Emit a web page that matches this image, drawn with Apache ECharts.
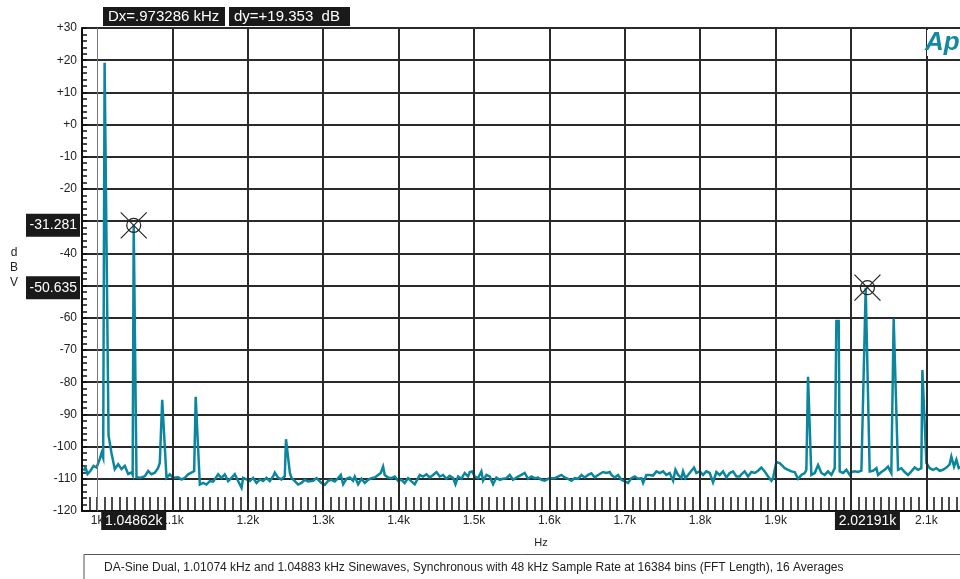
<!DOCTYPE html>
<html>
<head>
<meta charset="utf-8">
<script src="https://cdn.jsdelivr.net/npm/echarts@6/dist/echarts.min.js"></script>
<style>
html,body{margin:0;padding:0;background:#fff;overflow:hidden;}
#chart{width:960px;height:579px;}
</style>
</head>
<body>
<div id="chart"></div>
<script>
// ---------- DATA ----------
const freqHz = [
  982,984.7,987.3,991.3,995.3,999.3,1003.3,1005.9,1008.1,1010,1012.3,1015.2,1019.1,1023.5,1028,1032.4,1036.8,1041.3,1045.7,1047.2,1048.6,1050.3,
  1052.3,1056.7,1063.4,1067.8,1072.2,1076.6,1081.0,1083.2,1086.4,1088,1092.1,1096.5,1100.9,1107.6,1112.0,1116.4,1120.8,1125.2,1128.8,1130.8,1133,
  1136.3,1140.7,1145.1,1149.6,1154.0,1160.6,1165.0,1169.4,1173.9,1178.3,1182.7,1187.1,1191.6,1193.8,1198.2,1202.6,1207.0,1211.5,1215.9,1220.3,
  1224.7,1229.1,1233.6,1235.8,1240.2,1244.6,1249.0,1250.6,1252,1255.7,1257.9,1262.3,1266.7,
  1271.1,1275.5,1280.0,1286.6,1291.0,1297.6,1302.0,1306.5,1310.9,1315.3,1319.7,1323.3,1326.4,1330.8,1335.2,1339.6,1341.8,1346.3,1350.7,1355.1,
  1359.5,1363.9,1368.4,1372.8,1376.3,1379.4,1381.6,1386.0,1390.5,1394.9,1399.3,1403.7,1408.1,1412.6,1417.0,1421.4,1425.8,1428.0,1432.5,1436.9,
  1441.3,1445.7,1450.2,1454.6,1459.0,1463.4,1467.8,1472.3,1475.4,1478.9,1483.3,1487.7,1492.1,1494.4,1497.5,1501.0,1505.4,1509.8,1512.0,1516.5,
  1520.9,1525.3,1529.7,1534.2,1538.6,1543.0,1547.4,1551.8,1558.5,
  1562.9,1567.3,1571.7,1576.2,1580.6,1585.0,1589.4,1593.8,1598.3,1602.7,1607.1,1611.5,1615.9,1620.4,1624.8,1629.2,1633.6,1638.1,1642.5,1646.9,
  1651.3,1655.7,1660.2,1664.6,1671.2,1675.6,1680.1,1682.3,1686.7,1691.1,1695.5,1700.0,1704.4,1708.8,1713.2,1717.6,1722.1,1724.3,1728.7,1733.1,
  1737.5,1742.0,1746.4,1750.8,1755.2,1759.6,1764.1,1767.2,1770.7,1775.1,1777.3,1780.4,1784.0,1788.4,1791.9,1795.0,1799.4,1803.8,1808.3,1812.7,
  1817.1,1821.5,1826.0,1830.4,1834.8,1839.2,1843.6,1848.1,1852.5,
  1854.7,1859.1,1863.5,1868.0,1872.4,1876.8,1881.2,1885.6,1890.1,1894.5,1896.7,1898.9,1901.1,1905.5,1907.8,1912.2,1916.6,1921.0,1925.4,1929.9,
  1934.3,1938.7,1940.9,1943.1,1945.3,1947.5,1952.0,1956.4,1960.8,1965.2,1969.6,1974.1,1978.5,1980.7,1983.8,1985.1,1989.5,1994.0,1998.4,2000.6,
  2005.0,2009.4,2013.9,2019.6,2021.8,2024.9,2029.3,2033.8,2036.0,2040.4,2044.8,2049.2,2053.6,2056.7,2059.0,2062.5,2066.9,2071.3,2075.8,2080.2,
  2084.6,2089.0,2093.4,2094.8,2096.1,2100.1,2104.5,2108.9,2113.3,2117.8,2122.2,2126.6,2131.0,2133.2,2136.8,2139.9,2143.0,2146.5
];
const levelDbv = [
  -107.5,-106.5,-108.5,-107.5,-106,-106.5,-104,-102,-103.5,19.2,19.2,-96.5,-102,-107,-105.5,-107,-106,-108.5,-108,-108.8,-31.28,-31.3,
  -109.5,-109.7,-109.2,-107.6,-108.6,-108.1,-106.6,-105.0,-85.5,-85.5,-109.7,-108.6,-109.7,-109.5,-110.2,-109.7,-108.6,-108.1,-107.6,-84.5,-84.5,
  -111.8,-111.3,-111.8,-110.7,-110.9,-108.6,-109.7,-108.6,-110.7,-109.7,-108.6,-110.7,-112.8,-109.7,-110.2,-110.7,-109.7,-111.3,-110.2,-110.7,
  -109.7,-110.7,-109.2,-108.1,-109.7,-110.2,-109.2,-97.7,-97.7,-108.1,-109.7,-110.7,-111.8,
  -111.3,-110.3,-110.8,-110.6,-109.8,-111.3,-111.9,-110.6,-110.3,-110.8,-109.8,-108.8,-111.7,-110,-109.6,-110.6,-109.3,-111.7,-110,-111.3,
  -110.3,-109.8,-109.6,-108.8,-108.2,-106.2,-108.8,-109.6,-109.8,-109.3,-110.6,-110.3,-111.3,-109.8,-110.8,-111.7,-109.8,-108.8,-109.3,-108.6,
  -109.6,-108.8,-107.9,-109.3,-108.8,-110,-109.1,-109.8,-111.7,-109.3,-110,-108.2,-109.3,-107.9,-107.7,-109.3,-109.8,-107.7,-110.6,-108.8,
  -109.3,-111.7,-109.6,-110.3,-110,-109.8,-108.8,-110.3,-109.3,
  -108.8,-108.2,-110,-109.3,-109.8,-109.6,-110.3,-110.6,-110,-109.8,-109.8,-109.3,-108.8,-109.6,-110,-110.6,-109.8,-110,-108.8,-109.6,
  -108.8,-108.3,-109.6,-108.8,-107.9,-108.2,-107.9,-108.8,-109.6,-108.8,-110.3,-110.8,-111.3,-109.8,-109.3,-110,-109.8,-111.3,-108.8,-108.8,
  -109,-107.7,-108.2,-107.7,-108.8,-108.2,-110.6,-107.2,-108.8,-109.8,-107.7,-109.8,-108.8,-107.5,-106.5,-108.2,-107.7,-108.8,-107.7,-108.2,
  -111.1,-107.9,-108.8,-107.7,-109.6,-108.2,-107.7,-109.3,-109.3,
  -108.6,-107.7,-109.3,-107.9,-108.2,-107.5,-106.5,-107.7,-109.3,-110.6,-109.8,-107.2,-104.8,-105.1,-104.6,-106.7,-107.2,-107.7,-107.9,-110,
  -108.8,-108.2,-107.2,-78.3,-78.3,-108.8,-108.2,-105.7,-108.2,-108.8,-107.7,-108.8,-106.7,-61,-61,-107.7,-108.2,-107.2,-108.8,-107.9,
  -107.7,-107.9,-107.5,-50.64,-50.64,-107.7,-107.5,-106.7,-108.8,-107.9,-107.2,-106.2,-108.2,-60.2,-60.2,-107.2,-106.7,-107.9,-108.8,-107.7,
  -106.5,-107.2,-106.7,-76.2,-76.2,-105.1,-106.7,-107.2,-106.7,-107.5,-107.2,-106.5,-105.5,-103.1,-106.2,-104.1,-106.7,-106.2
];
const gridFreqs = [1000,1100,1200,1300,1400,1500,1600,1700,1800,1900,2000,2100];
const cursorFreqs = [1048.62, 2021.91];
const cursorLevels = [-31.281, -50.635];
const cursorXLabels = ['1.04862k', '2.02191k'];
const cursorYLabels = ['-31.281', '-50.635'];
const deltaLabels = ['Dx=.973286 kHz', 'dy=+19.353  dB'];
const captionText = 'DA-Sine Dual, 1.01074 kHz and 1.04883 kHz Sinewaves, Synchronous with 48 kHz Sample Rate at 16384 bins (FFT Length), 16 Averages';

// ---------- CHART ----------
const FONT = '"Liberation Sans", Arial, sans-serif';
const LINE = '#0b869e';
const chart = echarts.init(document.getElementById('chart'), null, {renderer: 'canvas'});
const series = freqHz.map((f, i) => [f, levelDbv[i]]);
const cursors = cursorFreqs.map((f, i) => [f, cursorLevels[i]]);

chart.setOption({
  animation: false,
  backgroundColor: '#fff',
  grid: {left: 82, top: 28, width: 882, height: 483, containLabel: false, outerBoundsMode: 'none'},
  xAxis: {
    type: 'value', min: 980, max: 2150, interval: 10,
    axisLine: {show: true, onZero: false, lineStyle: {color: '#111', width: 2}},
    axisTick: {show: true, inside: true, length: 14, lineStyle: {color: '#111', width: 1.5}},
    axisLabel: {
      margin: 4, color: '#222', fontSize: 12, fontFamily: FONT,
      formatter: v => (Math.round(v) % 100 === 0 ? (Math.round(v) / 1000) + 'k' : '')
    },
    splitLine: {show: false}
  },
  yAxis: {
    type: 'value', min: -120, max: 30, interval: 10,
    axisLine: {show: true, onZero: false, lineStyle: {color: '#111', width: 2}},
    axisTick: {show: true, inside: true, length: 5, lineStyle: {color: '#111', width: 1.5}},
    minorTick: {show: true, splitNumber: 5, length: 5, lineStyle: {color: '#111', width: 1.5}},
    axisLabel: {
      margin: 5, color: '#222', fontSize: 12, fontFamily: FONT,
      formatter: v => (v >= 0 ? '+' + v : String(v))
    },
    splitLine: {show: true, lineStyle: {color: '#2a2a2a', width: 2}}
  },
  series: [
    {
      type: 'line', data: [], z: 1, silent: true,
      markLine: {
        silent: true, symbol: 'none', animation: false,
        label: {show: false},
        data: gridFreqs.map(f => ({
          xAxis: f,
          lineStyle: f === 1000 ? {color: '#777', width: 1, type: 'solid'} : {color: '#2a2a2a', width: 2, type: 'solid'}
        }))
      }
    },
    {
      type: 'line', data: series, z: 3, showSymbol: false, symbol: 'none',
      lineStyle: {color: LINE, width: 2.5, join: 'miter'}, clip: true
    },
    {
      type: 'custom', z: 5, data: cursors, silent: true,
      renderItem: (params, api) => {
        const p = api.coord([api.value(0), api.value(1)]);
        const s = {stroke: '#222', lineWidth: 1.2, fill: null};
        return {type: 'group', children: [
          {type: 'circle', shape: {cx: p[0], cy: p[1], r: 7}, style: Object.assign({}, s, {fill: 'none'})},
          {type: 'line', shape: {x1: p[0] - 13, y1: p[1] - 13, x2: p[0] + 13, y2: p[1] + 13}, style: s},
          {type: 'line', shape: {x1: p[0] - 13, y1: p[1] + 13, x2: p[0] + 13, y2: p[1] - 13}, style: s}
        ]};
      }
    }
  ]
});

const g = [];
cursors.forEach((c, i) => {
  const px = chart.convertToPixel({gridIndex: 0}, c);
  g.push({type: 'rect', z: 100, shape: {x: 26, y: px[1] - 11.5, width: 54, height: 23}, style: {fill: '#1a1a1a'}});
  g.push({type: 'text', z: 101, x: 77, y: px[1], style: {text: cursorYLabels[i], fill: '#fff', font: '14px ' + FONT, align: 'right', verticalAlign: 'middle'}});
  g.push({type: 'rect', z: 100, shape: {x: px[0] - 32.5, y: 511, width: 65, height: 19}, style: {fill: '#1a1a1a'}});
  g.push({type: 'text', z: 101, x: px[0], y: 521, style: {text: cursorXLabels[i], fill: '#fff', font: '14px ' + FONT, align: 'center', verticalAlign: 'middle'}});
});
g.push({type: 'rect', z: 100, shape: {x: 103, y: 7, width: 122, height: 19}, style: {fill: '#1a1a1a'}});
g.push({type: 'text', z: 101, x: 108, y: 17, style: {text: deltaLabels[0], fill: '#fff', font: '15px ' + FONT, verticalAlign: 'middle'}});
g.push({type: 'rect', z: 100, shape: {x: 229, y: 7, width: 121, height: 19}, style: {fill: '#1a1a1a'}});
g.push({type: 'text', z: 101, x: 234, y: 17, style: {text: deltaLabels[1], fill: '#fff', font: '15px ' + FONT, verticalAlign: 'middle'}});
g.push({type: 'text', z: 50, x: 14, y: 268, style: {text: 'd\nB\nV', fill: '#222', font: '12px ' + FONT, align: 'center', verticalAlign: 'middle', lineHeight: 15}});
g.push({type: 'text', z: 50, x: 541, y: 543, style: {text: 'Hz', fill: '#222', font: '11px ' + FONT, align: 'center', verticalAlign: 'middle'}});
g.push({type: 'polyline', z: 50, shape: {points: [[84, 580], [84, 554.5], [962, 554.5]]}, style: {stroke: '#555', lineWidth: 1, fill: null}});
g.push({type: 'text', z: 51, x: 104, y: 568, style: {text: captionText, fill: '#222', font: '12px ' + FONT, verticalAlign: 'middle'}});
g.push({type: 'rect', z: 60, shape: {x: 927, y: 30, width: 33, height: 26}, style: {fill: '#fff'}});
g.push({type: 'text', z: 61, x: 925, y: 43, style: {text: 'Ap', fill: '#1589a1', font: 'italic bold 26px ' + FONT, verticalAlign: 'middle'}});
chart.setOption({graphic: g});
</script>
</body>
</html>
